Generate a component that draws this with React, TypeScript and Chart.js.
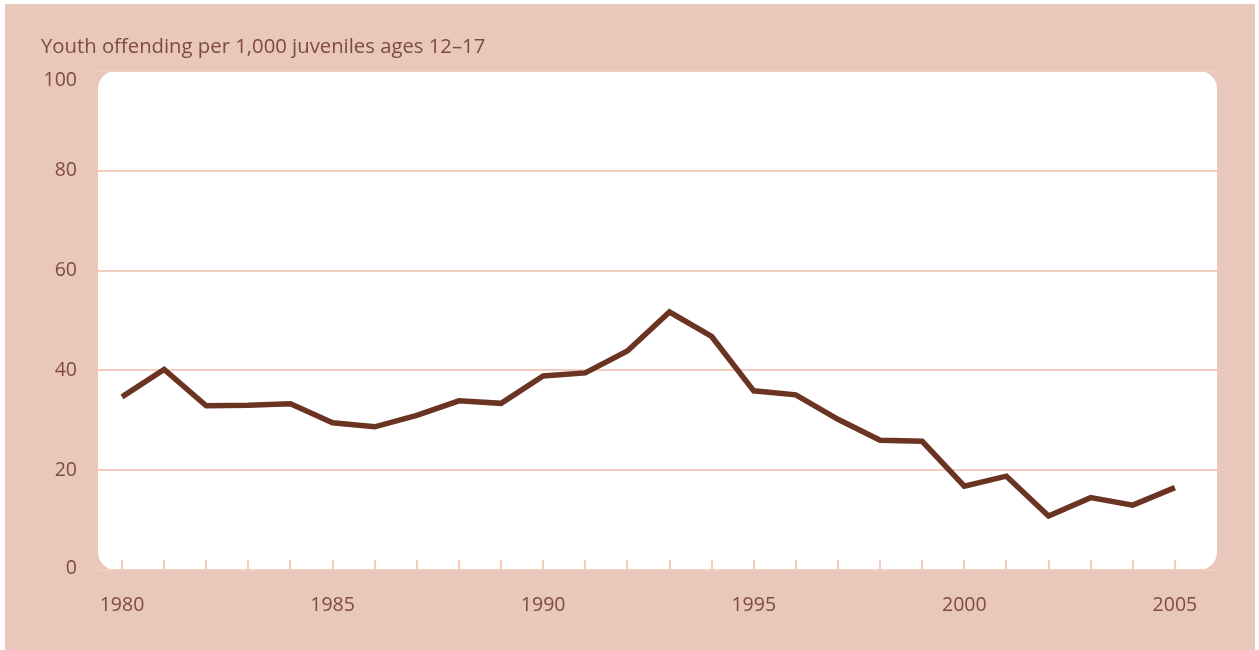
import React, { useEffect, useRef } from "react";
import { Chart, registerables } from "chart.js";

Chart.register(...registerables);

const titleText = "Youth offending per 1,000 juveniles ages 12–17";
const years = [1980, 1981, 1982, 1983, 1984, 1985, 1986, 1987, 1988, 1989, 1990, 1991, 1992, 1993, 1994, 1995, 1996, 1997, 1998, 1999, 2000, 2001, 2002, 2003, 2004, 2005];
const offending = [34.7, 40.2, 32.9, 33.0, 33.3, 29.5, 28.7, 31.0, 33.9, 33.4, 38.9, 39.5, 43.9, 51.7, 46.8, 35.9, 35.1, 30.2, 26.0, 25.8, 16.8, 18.8, 10.8, 14.5, 13.0, 16.5];
const xTickLabels = [1980, 1985, 1990, 1995, 2000, 2005];
const yTickLabels = [0, 20, 40, 60, 80, 100];

const PINK = "#E9C8BB";
const GRID = "#F4CDBF";
const LINE = "#6B3422";
const TEXT = "#7E4B3C";
const FONT = "'Open Sans', sans-serif";
const FSIZE = 19.5;
const TITLE_SIZE = 20.3;

export default function App() {
  const ref = useRef<HTMLCanvasElement | null>(null);

  useEffect(() => {
    if (!ref.current) return;
    const bgPlugin = {
      id: "bgPlugin",
      beforeDraw(chart: any) {
        const ctx = chart.ctx;
        const a = chart.chartArea;
        ctx.save();
        ctx.fillStyle = "#ffffff";
        ctx.fillRect(0, 0, chart.width, chart.height);
        ctx.fillStyle = PINK;
        ctx.fillRect(5, 4, 1250, 646);
        ctx.fillStyle = "#ffffff";
        ctx.beginPath();
        (ctx as any).roundRect(a.left, a.top, a.right - a.left, a.bottom - a.top, 18);
        ctx.fill();
        // title
        ctx.fillStyle = TEXT;
        ctx.font = `${TITLE_SIZE}px ${FONT}`;
        ctx.textAlign = "left";
        ctx.textBaseline = "middle";
        ctx.fillText(titleText, 41, 47.5);
        ctx.restore();
      },
      beforeDatasetsDraw(chart: any) {
        const ctx = chart.ctx;
        const a = chart.chartArea;
        const xs = chart.scales.x;
        const ys = chart.scales.y;
        ctx.save();
        ctx.strokeStyle = GRID;
        ctx.lineWidth = 2;
        for (const yr of years) {
          const px = Math.round(xs.getPixelForValue(yr));
          ctx.beginPath();
          ctx.moveTo(px, a.bottom - 10);
          ctx.lineTo(px, a.bottom);
          ctx.stroke();
        }
        ctx.fillStyle = TEXT;
        ctx.font = `${FSIZE}px ${FONT}`;
        ctx.textAlign = "right";
        ctx.textBaseline = "middle";
        for (const v of yTickLabels) {
          let py = ys.getPixelForValue(v);
          py = Math.max(py, a.top + 9);
          py = Math.min(py, a.bottom - 2);
          ctx.fillText(String(v), 77, py);
        }
        ctx.restore();
      },
    };

    const chart = new Chart(ref.current, {
      type: "line",
      data: {
        datasets: [
          {
            data: years.map((y, i) => ({ x: y, y: offending[i] })),
            borderColor: LINE,
            borderWidth: 5.5,
            pointRadius: 0,
            tension: 0,
            borderJoinStyle: "miter",
            fill: false,
          },
        ],
      },
      options: {
        responsive: false,
        animation: false,
        layout: { padding: { left: 0, right: 42, top: 71, bottom: 0 } },
        plugins: { legend: { display: false }, tooltip: { enabled: false } },
        scales: {
          x: {
            type: "linear",
            min: 1979.43,
            max: 2006,
            afterBuildTicks(scale: any) {
              scale.ticks = xTickLabels.map((v) => ({ value: v }));
            },
            afterFit(scale: any) {
              scale.height = 80;
            },
            grid: { display: false, drawTicks: false },
            border: { display: false },
            ticks: {
              color: TEXT,
              font: { family: FONT, size: FSIZE },
              padding: 24,
              maxRotation: 0,
              autoSkip: false,
              callback: (v: any) => String(v),
            },
          },
          y: {
            min: 0,
            max: 100,
            afterBuildTicks(scale: any) {
              scale.ticks = yTickLabels.map((v) => ({ value: v }));
            },
            afterFit(scale: any) {
              scale.width = 98;
            },
            grid: { color: GRID, lineWidth: 2, drawTicks: false },
            border: { display: false },
            ticks: { display: false },
          },
        },
      },
      plugins: [bgPlugin],
    } as any);
    return () => chart.destroy();
  }, []);

  return (
    <div style={{ position: "absolute", left: 0, top: 0, width: 1259, height: 650 }}>
      <canvas ref={ref} width={1259} height={650} style={{ display: "block" }} />
    </div>
  );
}
